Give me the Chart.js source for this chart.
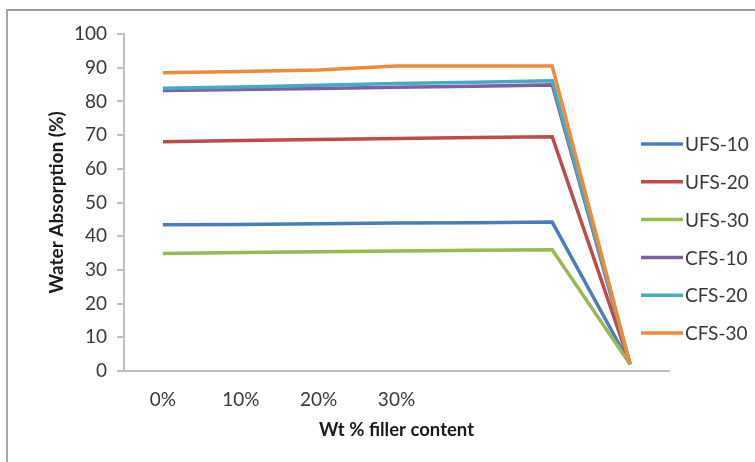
<!DOCTYPE html>
<html>
<head>
<meta charset="utf-8">
<script src="https://cdn.jsdelivr.net/npm/chart.js@4/dist/chart.umd.min.js"></script>
<style>
  html, body { margin: 0; padding: 0; background: #fff; }
  #wrap { position: relative; width: 755px; height: 462px; overflow: hidden; }
  #frame {
    position: absolute; left: 6px; top: 9px; width: 800px; height: 500px;
    border-top: 2px solid #9a9a9a; border-left: 2px solid #a8a8a8;
  }
  #grafico { position: absolute; left: 0; top: 0; }
</style>
</head>
<body>
<div id="wrap">
  <div id="frame"></div>
  <canvas id="grafico" width="755" height="462"></canvas>
</div>
<script>
// Dados do gráfico
const categorias = ['0%', '10%', '20%', '30%', '', '', ''];
const ufs10 = [43.4, 43.5, 43.7, 43.9, 44.0, 44.2, 2];
const ufs20 = [68.0, 68.4, 68.7, 69.0, 69.3, 69.5, 2];
const ufs30 = [34.9, 35.2, 35.4, 35.6, 35.8, 36.0, 2];
const cfs10 = [83.2, 83.5, 83.8, 84.2, 84.5, 84.9, 2];
const cfs20 = [83.9, 84.3, 84.8, 85.3, 85.7, 86.1, 2];
const cfs30 = [88.5, 88.9, 89.3, 90.5, 90.5, 90.5, 2];
const nomesSeries = ['UFS-10', 'UFS-20', 'UFS-30', 'CFS-10', 'CFS-20', 'CFS-30'];
const cores = ['#4a7ebb', '#be4b48', '#98b954', '#7d60a0', '#46aac5', '#f08a34'];

const corTexto = '#383838';
const corEixo = '#c0c0c0';

// Legenda lateral desenhada à mão (sobrepõe a área do gráfico como no Excel)
const legendaLateral = {
  id: 'legendaLateral',
  afterDraw(chart) {
    const ctx = chart.ctx;
    ctx.save();
    ctx.font = '19px Lato';
    ctx.textBaseline = 'middle';
    ctx.textAlign = 'left';
    chart.data.datasets.forEach((ds, i) => {
      const y = 144 + i * 37.8;
      ctx.strokeStyle = ds.borderColor;
      ctx.lineWidth = 3.5;
      ctx.beginPath();
      ctx.moveTo(641, y);
      ctx.lineTo(683, y);
      ctx.stroke();
      ctx.fillStyle = corTexto;
      ctx.fillText(ds.label, 685, y + 1);
    });
    ctx.restore();
  }
};

function desenhar() {
  const series = [ufs10, ufs20, ufs30, cfs10, cfs20, cfs30];
  const ctx = document.getElementById('grafico').getContext('2d');

  new Chart(ctx, {
    type: 'line',
    data: {
      labels: categorias,
      datasets: series.map((valores, i) => ({
        label: nomesSeries[i],
        data: valores,
        borderColor: cores[i],
        backgroundColor: cores[i],
        borderWidth: 3.5,
        pointRadius: 0,
        tension: 0,
        order: series.length - i
      }))
    },
    options: {
      responsive: false,
      animation: false,
      layout: { padding: { left: 0, top: 34, right: 86, bottom: 0 } },
      plugins: {
        legend: { display: false },
        tooltip: { enabled: false }
      },
      scales: {
        x: {
          offset: true,
          grid: { display: false, drawTicks: false },
          border: { display: true, color: corEixo, width: 2 },
          ticks: { color: corTexto, font: { family: 'Lato', size: 19 }, padding: 17, maxRotation: 0, autoSkip: false },
          title: {
            display: true,
            text: 'Wt % filler content',
            color: '#1a1a1a',
            font: { family: 'Lato', size: 18.5, weight: 'bold' },
            padding: { top: 0, bottom: 21 }
          },
          afterFit(scale) { scale.height = 91; }
        },
        y: {
          min: 0,
          max: 100,
          ticks: { stepSize: 10, color: corTexto, font: { family: 'Lato', size: 19 }, padding: 10 },
          grid: { drawOnChartArea: false, drawTicks: true, tickLength: 7, color: corEixo, lineWidth: 2 },
          border: { color: corEixo, width: 2 },
          title: {
            display: true,
            text: 'Water Absorption (%)',
            color: '#1a1a1a',
            font: { family: 'Lato', size: 19, weight: 'bold' },
            padding: { top: 45, bottom: 0 }
          },
          afterFit(scale) { scale.width = 124; }
        }
      }
    },
    plugins: [legendaLateral]
  });
}

if (document.fonts && document.fonts.load) {
  Promise.all([
    document.fonts.load('19px Lato'),
    document.fonts.load('bold 19px Lato')
  ]).then(desenhar, desenhar);
} else {
  desenhar();
}
</script>
</body>
</html>
